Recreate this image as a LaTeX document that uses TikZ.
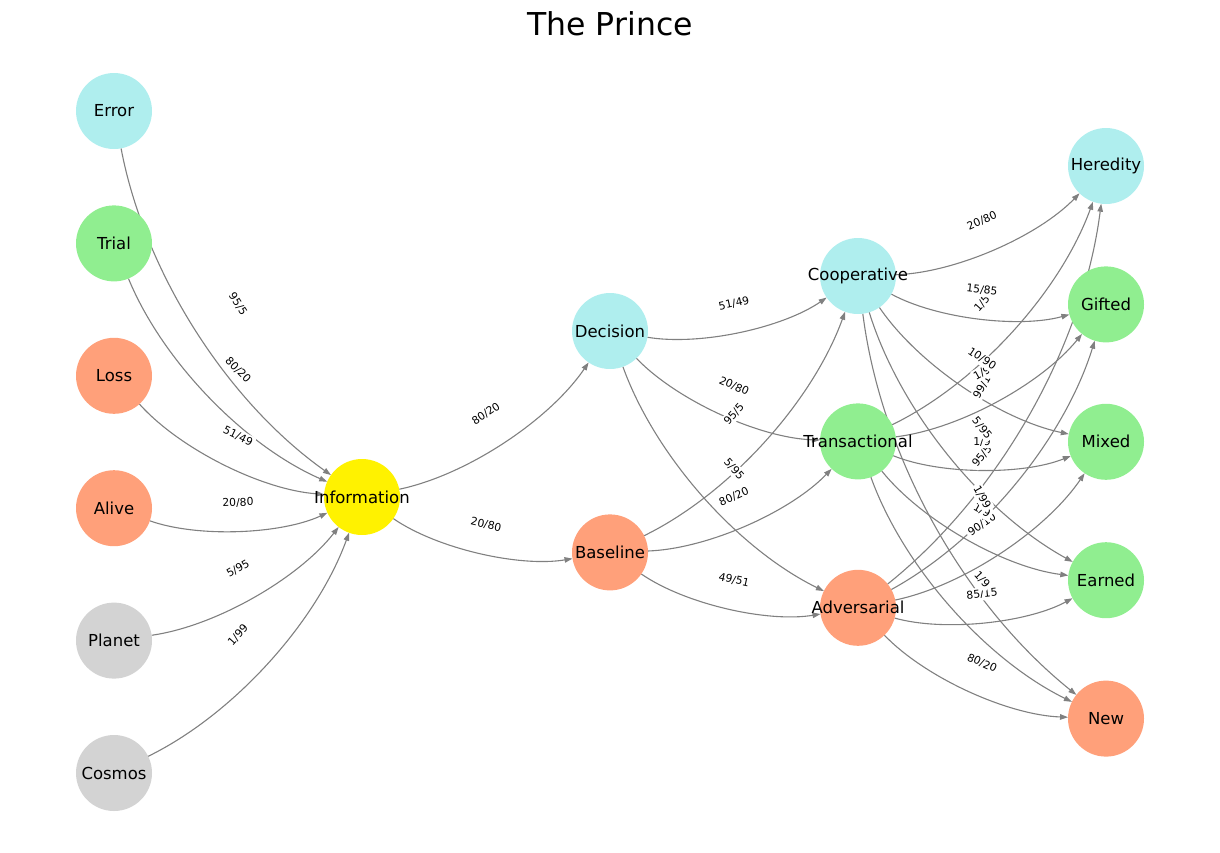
\documentclass[tikz,border=0pt]{standalone}
\usepackage{fontspec}
\setmainfont{DejaVu Sans}
\usetikzlibrary{positioning,arrows.meta}
\definecolor{paleblue}{HTML}{AFEEEE}
\definecolor{palegreen}{HTML}{90EE90}
\definecolor{softsalmon}{HTML}{FFA07A}
\definecolor{lightgrey}{HTML}{D3D3D3}
\definecolor{edgegrey}{HTML}{808080}
\pgfdeclarelayer{background}
\pgfsetlayers{background,main}

\begin{document}
\begin{tikzpicture}
[
  x=1pt, y=-1pt,
  ball/.style 2 args={circle, fill=#1, minimum size=76pt, inner sep=0pt, label=center:#2},
  every label/.style={font=\fontsize{16.5}{20}\selectfont},
  link/.style={draw=edgegrey, line width=1.1pt, -{Triangle[length=8pt,width=5.5pt]},
    bend right=22, looseness=0.92, shorten <=38pt, shorten >=38pt},
  weight/.style={sloped, fill=white, rounded corners=2pt, inner sep=2pt, font=\fontsize{10.8}{12}\selectfont}
]
\useasboundingbox (0,0) rectangle (1220,852);
\node (title) at (610,24) {\fontsize{31.5}{36}\selectfont The Prince};

% inputs
\node (error) [ball={paleblue}{Error}] at (114,111) {};
\node (trial) [below=56pt of error, ball={palegreen}{Trial}] {};
\node (loss) [below=56pt of trial, ball={softsalmon}{Loss}] {};
\node (alive) [below=56pt of loss, ball={softsalmon}{Alive}] {};
\node (planet) [below=56pt of alive, ball={lightgrey}{Planet}] {};
\node (cosmos) [below=56pt of planet, ball={lightgrey}{Cosmos}] {};

\node (info) [ball={yellow}{Information}] at (362,497) {};

\node (decision) [ball={paleblue}{Decision}] at (610,331) {};
\node (baseline) [below=145pt of decision, ball={softsalmon}{Baseline}] {};

\node (coop) [ball={paleblue}{Cooperative}] at (858,276) {};
\node (trans) [below=89pt of coop, ball={palegreen}{Transactional}] {};
\node (adv) [below=90pt of trans, ball={softsalmon}{Adversarial}] {};

% outcomes
\node (heredity) [ball={paleblue}{Heredity}] at (1106,166) {};
\node (gifted) [below=62pt of heredity, ball={palegreen}{Gifted}] {};
\node (mixed) [below=61pt of gifted, ball={palegreen}{Mixed}] {};
\node (earned) [below=62pt of mixed, ball={palegreen}{Earned}] {};
\node (new) [below=62pt of earned, ball={softsalmon}{New}] {};

\foreach \i/\j/\w in {error/info/{95/5}, trial/info/{80/20}, loss/info/{51/49},
    alive/info/{20/80}, planet/info/{5/95}, cosmos/info/{1/99},
    info/decision/{80/20}, info/baseline/{20/80},
    decision/coop/{51/49}, baseline/coop/{95/5},
    decision/trans/{20/80}, baseline/trans/{80/20},
    decision/adv/{5/95}, baseline/adv/{49/51},
    coop/heredity/{20/80}, trans/heredity/{1/5}, adv/heredity/{99/1},
    coop/gifted/{15/85}, trans/gifted/{1/9}, adv/gifted/{95/5},
    coop/mixed/{10/90}, trans/mixed/{1/9}, adv/mixed/{90/10},
    coop/earned/{5/95}, trans/earned/{1/9}, adv/earned/{85/15},
    coop/new/{1/99}, trans/new/{1/9}, adv/new/{80/20}}
{
  \begin{pgfonlayer}{background}
    \draw [link] (\i.center) to (\j.center);
  \end{pgfonlayer}
  \path (\i) -- node [weight] {\w} (\j);
}
\end{tikzpicture}
\end{document}
